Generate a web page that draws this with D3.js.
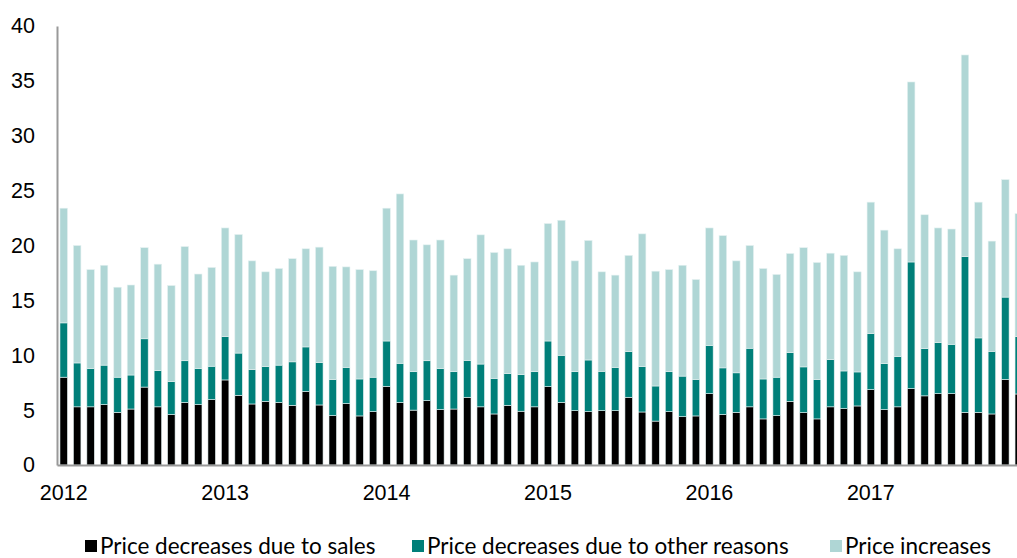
<!DOCTYPE html>
<html>
<head>
<meta charset="utf-8">
<script src="https://d3js.org/d3.v7.min.js"></script>
<style>
    body { margin: 0; background: #fff; }
    svg { display: block; font-family: Lato, "Open Sans", sans-serif; }
    .tick text { fill: #000; }
</style>
</head>
<body>
<svg id="chart" width="1017" height="558"></svg>
<script>

// monthly, Jan 2012 .. Dec 2017
var years = ['2012', '2013', '2014', '2015', '2016', '2017'];
var months = [];
years.forEach(function(y) {
    for (var m = 1; m <= 12; m++) months.push(y + '-' + (m < 10 ? '0' + m : m));
});

var sales = [
    8.0, 5.3, 5.3, 5.5, 4.8, 5.1, 7.1, 5.3, 4.6, 5.7, 5.5, 5.96,
    7.75, 6.35, 5.56, 5.8, 5.7, 5.44, 6.7, 5.47, 4.5, 5.6, 4.47, 4.86,
    7.17, 5.7, 5.0, 5.87, 5.05, 5.1, 6.17, 5.3, 4.65, 5.44, 4.9, 5.3,
    7.14, 5.7, 4.95, 4.86, 4.95, 4.95, 6.17, 4.83, 4.0, 4.86, 4.4, 4.47,
    6.5, 4.6, 4.8, 5.3, 4.2, 4.5, 5.8, 4.77, 4.2, 5.3, 5.14, 5.38,
    6.87, 5.05, 5.3, 6.96, 6.3, 6.5, 6.5, 4.8, 4.8, 4.65, 7.8, 6.47
];
var otherReasons = [
    4.95, 4.0, 3.5, 3.6, 3.2, 3.1, 4.4, 3.3, 3.0, 3.8, 3.3, 3.04,
    3.95, 3.85, 3.14, 3.17, 3.4, 3.96, 4.06, 3.86, 3.3, 3.3, 3.37, 3.14,
    4.13, 3.57, 3.5, 3.63, 3.75, 3.4, 3.37, 3.9, 3.25, 2.89, 3.34, 3.2,
    4.16, 4.3, 3.55, 4.71, 3.59, 3.95, 4.16, 4.14, 3.2, 3.64, 3.7, 3.33,
    4.4, 4.25, 3.6, 5.34, 3.64, 3.5, 4.44, 4.17, 3.6, 4.3, 3.43, 3.1,
    5.11, 4.19, 4.6, 11.54, 4.3, 4.65, 4.5, 14.2, 6.78, 5.71, 7.5, 5.23
];
var increases = [
    10.45, 10.7, 9.0, 9.1, 8.2, 8.2, 8.3, 9.7, 8.75, 10.4, 8.6, 9.0,
    9.9, 10.8, 9.9, 8.63, 8.8, 9.4, 8.94, 10.52, 10.3, 9.15, 9.96, 9.7,
    12.1, 15.43, 12.0, 10.56, 11.7, 8.8, 9.26, 11.77, 11.46, 11.37, 9.96, 10.0,
    10.7, 12.3, 10.1, 10.89, 9.06, 8.4, 8.77, 12.09, 10.46, 9.3, 10.1, 9.1,
    10.7, 12.05, 10.2, 9.36, 10.06, 9.36, 9.03, 10.86, 10.65, 9.7, 10.53, 9.12,
    11.97, 12.16, 9.8, 16.4, 12.2, 10.45, 10.5, 18.36, 12.37, 10.04, 10.7, 11.2
];

var seriesNames = ['Price decreases due to sales', 'Price decreases due to other reasons', 'Price increases'];
var seriesKeys = ['sales', 'other', 'inc'];
var colors = ['#000000', '#007f79', '#afd6d5'];
var yTicks = [0, 5, 10, 15, 20, 25, 30, 35, 40];

var table = months.map(function(m, i) {
    return { month: m, sales: sales[i], other: otherReasons[i], inc: increases[i] };
});

var svg = d3.select('#chart');
var x0 = 57, yBase = 465, yTop = 26;

var x = d3.scaleBand()
    .domain(months)
    .range([x0, 1025.5])
    .paddingInner(0.442)
    .paddingOuter(0.22);

var y = d3.scaleLinear()
    .domain([0, 40])
    .range([yBase, yTop]);

var color = d3.scaleOrdinal().domain(seriesKeys).range(colors);

var stacked = d3.stack().keys(seriesKeys)(table);

svg.append('g')
  .selectAll('g')
    .data(stacked)
  .enter().append('g')
    .attr('fill', function(d) { return color(d.key); })
  .selectAll('rect')
    .data(function(d) { return d; })
  .enter().append('rect')
    .attr('x', function(d) { return x(d.data.month); })
    .attr('width', x.bandwidth())
    .attr('y', function(d) { return y(d[1]); })
    .attr('height', function(d) { return y(d[0]) - y(d[1]); })
    .attr('stroke', '#e4f1f1')
    .attr('stroke-width', 0.6);

// y axis
var yAxis = svg.append('g')
    .attr('transform', 'translate(' + x0 + ',0)')
    .call(d3.axisLeft(y).tickValues(yTicks).tickSize(0).tickPadding(22));
yAxis.select('.domain').attr('stroke', '#999').attr('stroke-width', 2);
yAxis.selectAll('text').style('font-size', '21.5px');

// x axis, labels on January of each year
var xAxis = svg.append('g')
    .attr('transform', 'translate(0,' + yBase + ')')
    .call(d3.axisBottom(x)
        .tickValues(years.map(function(yr) { return yr + '-01'; }))
        .tickFormat(function(d) { return d.slice(0, 4); })
        .tickSize(0).tickPadding(20));
xAxis.select('.domain').attr('stroke', '#999').attr('stroke-width', 2);
xAxis.selectAll('text').style('font-size', '21.5px');

// legend
var legendX = [85, 412, 830];
var legend = svg.append('g')
  .selectAll('g')
    .data(seriesNames)
  .enter().append('g')
    .attr('transform', function(d, i) { return 'translate(' + legendX[i] + ',546)'; });

legend.append('rect')
    .attr('x', 0).attr('y', -6)
    .attr('width', 12).attr('height', 12)
    .attr('fill', function(d, i) { return colors[i]; });

legend.append('text')
    .attr('x', 15)
    .attr('dy', '0.35em')
    .style('font-size', '22.5px')
    .text(function(d) { return d; });

</script>
</body>
</html>
